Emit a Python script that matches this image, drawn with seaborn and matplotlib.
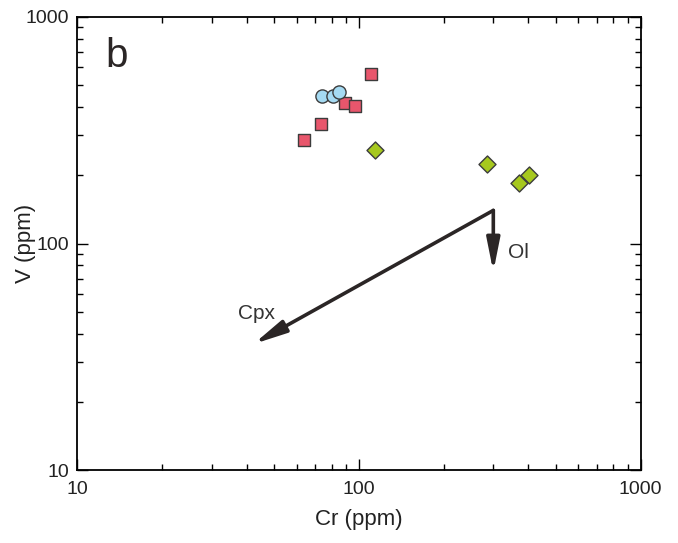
import pandas as pd
import matplotlib.pyplot as plt
import seaborn as sns
import numpy as np

# Values (Cr vs V, ppm)
circle_cr = [73.9, 81.0, 84.9]
circle_v = [448, 448, 465]
square_cr = [110.3, 89.0, 96.8, 73.5, 63.6]
square_v = [560, 417, 403, 337, 286]
diamond_cr = [114.3, 284.2, 401.8, 369.3]
diamond_v = [259, 224, 201, 185]

# fractionation vectors
vec_start = (300, 140)
ol_end = (300, 75)
cpx_end = (42.2, 36.0)

data = pd.DataFrame({
    "Cr": circle_cr + square_cr + diamond_cr,
    "V": circle_v + square_v + diamond_v,
    "group": ["circle"] * len(circle_cr) + ["square"] * len(square_cr) + ["diamond"] * len(diamond_cr),
})

markers = {"circle": "o", "square": "s", "diamond": "D"}
colors = {"circle": "#a5daf2", "square": "#e8566c", "diamond": "#a6c81e"}
sizes = {"circle": 90, "square": 80, "diamond": 75}

sns.set_style("ticks")
plt.rcParams["font.family"] = ["Liberation Sans", "DejaVu Sans"]

fig = plt.figure(figsize=(6.78, 5.43), dpi=100)
ax = fig.add_axes([0.1143, 0.1344, 0.8304, 0.8343])

for g in ["square", "circle", "diamond"]:
    sub = data[data["group"] == g]
    sns.scatterplot(data=sub, x="Cr", y="V", marker=markers[g], color=colors[g],
                    s=sizes[g], edgecolor="#3c3c3c", linewidth=1.0, ax=ax, zorder=3)

ax.set_xscale("log")
ax.set_yscale("log")
ax.set_xlim(10, 1000)
ax.set_ylim(10, 1000)
ax.set_xticks([10, 100, 1000])
ax.set_xticklabels(["10", "100", "1000"])
ax.set_yticks([10, 100, 1000])
ax.set_yticklabels(["10", "100", "1000"])

ax.tick_params(which="both", direction="in", top=True, right=True, colors="black",
               labelsize=14, width=1.0, labelcolor="#222222")
ax.tick_params(which="major", length=8)
ax.tick_params(which="minor", length=4)
ax.tick_params(axis="x", which="major", pad=8)
ax.tick_params(axis="y", which="major", pad=6)
for sp in ax.spines.values():
    sp.set_linewidth(1.3)
    sp.set_color("black")

ax.set_xlabel("Cr (ppm)", fontsize=16, color="#222222")
ax.set_ylabel("V (ppm)", fontsize=16, color="#222222")
ax.xaxis.set_label_coords(0.5, -0.085)
ax.yaxis.set_label_coords(-0.074, 0.5)

arrow_kw = dict(arrowstyle="-|>,head_length=1.4,head_width=0.28", color="#2b2626",
                lw=2.6, mutation_scale=14, shrinkA=0, shrinkB=0)
ax.annotate("", xy=cpx_end, xytext=vec_start, arrowprops=arrow_kw, zorder=2)
ax.annotate("", xy=ol_end, xytext=vec_start, arrowprops=arrow_kw, zorder=2)
ax.text(338, 91, "Ol", fontsize=15, color="#333333", va="center", ha="left")
ax.text(43.4, 49.3, "Cpx", fontsize=15, color="#333333", va="center", ha="center")

ax.text(0.05, 0.955, "b", transform=ax.transAxes, fontsize=29, color="#2b2626",
        va="top", ha="left")

plt.savefig("out.png", dpi=100)
